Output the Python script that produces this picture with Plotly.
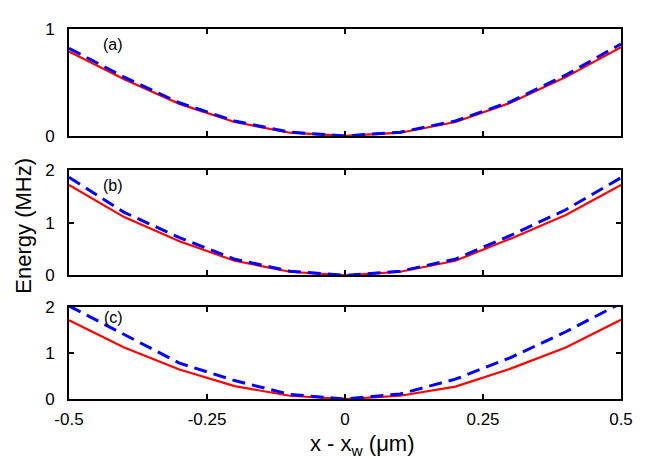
import plotly.graph_objects as go

# displacement from the well centre (um)
x_pos = [-0.5, -0.4, -0.3, -0.2, -0.1, 0.0, 0.1, 0.2, 0.3, 0.4, 0.5]

# panel (a)
red_a = [0.79, 0.53, 0.30, 0.13, 0.03, 0.0, 0.03, 0.13, 0.31, 0.55, 0.83]
blue_a = [0.82, 0.55, 0.31, 0.14, 0.035, 0.0, 0.035, 0.14, 0.32, 0.57, 0.86]

# panel (b)
red_b = [1.72, 1.11, 0.65, 0.28, 0.07, 0.0, 0.07, 0.28, 0.70, 1.15, 1.72]
blue_b = [1.87, 1.20, 0.72, 0.31, 0.08, 0.0, 0.08, 0.31, 0.76, 1.25, 1.86]

# panel (c)
red_c = [1.71, 1.12, 0.64, 0.28, 0.07, 0.0, 0.07, 0.27, 0.66, 1.12, 1.72]
blue_c = [2.02, 1.40, 0.78, 0.40, 0.10, 0.0, 0.11, 0.43, 0.90, 1.46, 2.08]

x_ticks = [-0.5, -0.25, 0, 0.25, 0.5]
x_labels = ["-0.5", "-0.25", "0", "0.25", "0.5"]

# tag, red, blue, y range, y ticks, domain, label offset from top (px)
panels = [
    ("(a)", red_a, blue_a, [0, 1], [0, 1], [0.711, 1.0], -15),
    ("(b)", red_b, blue_b, [0, 2], [0, 1, 2], [0.334, 0.618], -15),
    ("(c)", red_c, blue_c, [0, 2], [0, 1, 2], [0.0, 0.249], -11),
]

FONT = "Liberation Sans, Arial, sans-serif"

fig = go.Figure()
layout = {}
for i, (tag, red, blue, yr, yt, dom, dy) in enumerate(panels, start=1):
    sfx = "" if i == 1 else str(i)
    fig.add_trace(go.Scatter(x=x_pos, y=red, mode="lines",
                             line=dict(color="#ff0000", width=2.2),
                             xaxis="x" + sfx, yaxis="y" + sfx, showlegend=False))
    fig.add_trace(go.Scatter(x=x_pos, y=blue, mode="lines",
                             line=dict(color="#0000ff", width=3, dash="13px,7px"),
                             xaxis="x" + sfx, yaxis="y" + sfx, showlegend=False))
    layout["xaxis" + sfx] = dict(
        range=[-0.5, 0.5], anchor="y" + sfx, domain=[0, 1],
        tickvals=x_ticks, ticktext=x_labels,
        showticklabels=(i == 3), ticks="inside", ticklen=5, tickwidth=1.5,
        tickcolor="black", showline=True, linecolor="black", linewidth=2,
        mirror="allticks", showgrid=False, zeroline=False,
        ticklabelstandoff=4,
        tickfont=dict(size=17, color="black", family=FONT),
    )
    layout["yaxis" + sfx] = dict(
        range=yr, anchor="x" + sfx, domain=dom, tickvals=yt,
        ticks="inside", ticklen=5, tickwidth=1.5, tickcolor="black",
        showline=True, linecolor="black", linewidth=2, mirror="allticks",
        showgrid=False, zeroline=False, ticklabelstandoff=9,
        tickfont=dict(size=17, color="black", family=FONT),
    )
    fig.add_annotation(text=tag, x=-0.42, y=dom[1], xref="x" + sfx,
                       yref="paper", yanchor="middle", yshift=dy,
                       showarrow=False,
                       font=dict(size=16, color="black", family=FONT))

fig.add_annotation(text="Energy (MHz)", x=-0.083, y=0.469, xref="paper",
                   yref="paper", textangle=-90, showarrow=False,
                   xanchor="center", yanchor="middle",
                   font=dict(size=22, color="black", family=FONT))

fig.add_annotation(text="x - x<sub>w</sub> (\u03bcm)", x=0.531, y=-0.123,
                   xref="paper", yref="paper", showarrow=False,
                   xanchor="center", yanchor="middle",
                   font=dict(size=22, color="black", family=FONT))

# the page body adds an 8px offset, so margins are trimmed by that much
fig.update_layout(
    width=654, height=458,
    margin=dict(l=61, r=41, t=17, b=67),
    plot_bgcolor="white", paper_bgcolor="white",
    **layout,
)

fig.write_html("out.html")
